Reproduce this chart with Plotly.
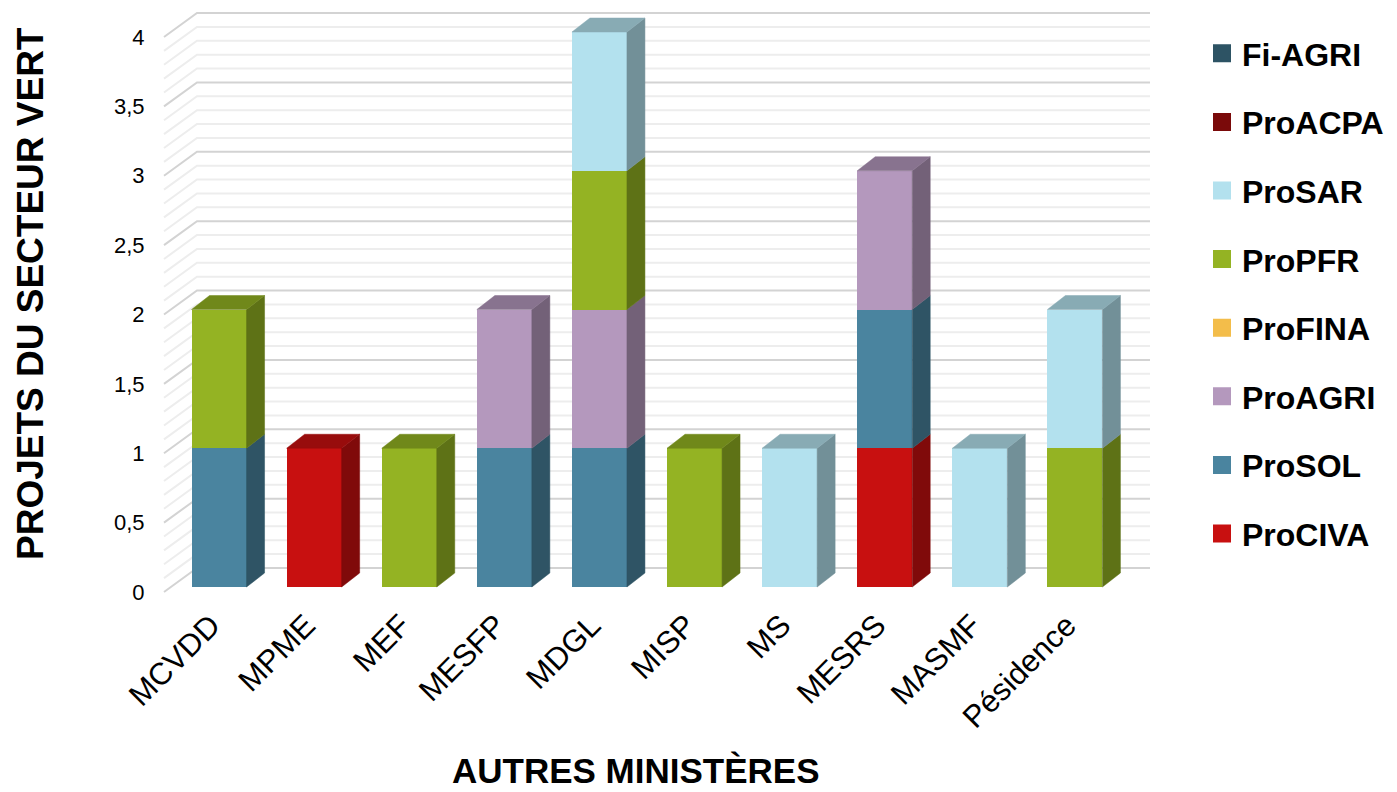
import plotly.graph_objects as go

# ---------------- data ----------------
categories = ["MCVDD", "MPME", "MEF", "MESFP", "MDGL", "MISP", "MS", "MESRS", "MASMF", "Pésidence"]
series_names = ["ProCIVA", "ProSOL", "ProAGRI", "ProFINA", "ProPFR", "ProSAR", "ProACPA", "Fi-AGRI"]
ProCIVA = [0, 1, 0, 0, 0, 0, 0, 1, 0, 0]
ProSOL = [1, 0, 0, 1, 1, 0, 0, 1, 0, 0]
ProAGRI = [0, 0, 0, 1, 1, 0, 0, 1, 0, 0]
ProFINA = [0, 0, 0, 0, 0, 0, 0, 0, 0, 0]
ProPFR = [1, 0, 1, 0, 1, 1, 0, 0, 0, 1]
ProSAR = [0, 0, 0, 0, 1, 0, 1, 0, 1, 1]
ProACPA = [0, 0, 0, 0, 0, 0, 0, 0, 0, 0]
Fi_AGRI = [0, 0, 0, 0, 0, 0, 0, 0, 0, 0]
series_values = [ProCIVA, ProSOL, ProAGRI, ProFINA, ProPFR, ProSAR, ProACPA, Fi_AGRI]
y_tick_values = [0, 0.5, 1, 1.5, 2, 2.5, 3, 3.5, 4]
y_tick_labels = ["0", "0,5", "1", "1,5", "2", "2,5", "3", "3,5", "4"]
x_title = "AUTRES MINISTÈRES"
y_title = "PROJETS DU SECTEUR VERT"

# ---------------- style ----------------
colors = {
    "ProCIVA": "#C81010",
    "ProSOL": "#4A849F",
    "ProAGRI": "#B498BD",
    "ProFINA": "#F3BD4A",
    "ProPFR": "#94B323",
    "ProSAR": "#B3E1EE",
    "ProACPA": "#7A0A0A",
    "Fi-AGRI": "#2D5364",
}
FONT = "Liberation Sans, Arial, sans-serif"


def shade(hex_color, f):
    h = hex_color.lstrip("#")
    r, g, b = (int(h[i:i + 2], 16) for i in (0, 2, 4))
    return "#%02X%02X%02X" % (int(r * f), int(g * f), int(b * f))


W, H = 1397, 792
L_PX, R_PX, T_PX, B_PX = 162, 1151, 10, 600
x_range = [-0.6, 9.8]
y_range = [-0.0937, 4.1586]
px_per_cat = (R_PX - L_PX) / (x_range[1] - x_range[0])
px_per_unit = (B_PX - T_PX) / (y_range[1] - y_range[0])
bar_w = 55 / px_per_cat
dep_x = 18 / px_per_cat
dep_y = 14 / px_per_unit

xs = list(range(len(categories)))
fig = go.Figure()

# front faces (stacked bars)
for name, vals in zip(series_names, series_values):
    fig.add_trace(go.Bar(
        x=xs, y=[v if v else None for v in vals], width=bar_w,
        marker=dict(color=colors[name], line=dict(width=0)),
        name=name, showlegend=False,
        hovertemplate="%{text}<br>" + name + ": %{y}<extra></extra>",
        text=categories, textposition="none",
    ))

# side and top faces (3D effect) computed from the stacked values
cum = [0] * len(categories)
tops = [0] * len(categories)
for vals in series_values:
    for i, v in enumerate(vals):
        tops[i] += v
side_polys = {n: ([], []) for n in series_names}
top_polys = {n: ([], []) for n in series_names}
for name, vals in zip(series_names, series_values):
    for i, v in enumerate(vals):
        if not v:
            continue
        y0, y1 = cum[i], cum[i] + v
        xr = i + bar_w / 2
        xl = i - bar_w / 2
        sx, sy = side_polys[name]
        sx += [xr, xr + dep_x, xr + dep_x, xr, xr, None]
        sy += [y0, y0 + dep_y, y1 + dep_y, y1, y0, None]
        if y1 == tops[i]:
            tx, ty = top_polys[name]
            tx += [xl, xl + dep_x, xr + dep_x, xr, xl, None]
            ty += [y1, y1 + dep_y, y1 + dep_y, y1, y1, None]
        cum[i] = y1

for name in series_names:
    for polys, f in ((side_polys, 0.64), (top_polys, 0.76)):
        px_, py_ = polys[name]
        if px_:
            c = shade(colors[name], f)
            fig.add_trace(go.Scatter(
                x=px_, y=py_, mode="lines", fill="toself", fillcolor=c,
                line=dict(color=c, width=0.5), hoverinfo="skip",
                showlegend=False,
            ))

# legend entries (top of the legend = last series of the stack)
for name in reversed(series_names):
    fig.add_trace(go.Scatter(
        x=[None], y=[None], mode="markers", name=name, legendgroup="lg_" + name,
        marker=dict(symbol="square", size=16, color=colors[name],
                    line=dict(color=colors[name], width=2)),
    ))

# back wall gridlines with perspective diagonals (decoration)
front_off = 5 / px_per_unit
back_off = 19 / px_per_unit
xf = (164 - L_PX) / (R_PX - L_PX)
xb = (197 - L_PX) / (R_PX - L_PX)
xe = (1150 - L_PX) / (R_PX - L_PX)
shapes = []
for major in (False, True):
    for k in range(41):
        v = k / 10
        is_major = (k % 5 == 0)
        if is_major != major:
            continue
        col = "#D3D3D3" if major else "#EDEDED"
        shapes.append(dict(
            type="path", xref="paper", yref="y", layer="below",
            path="M %f,%f L %f,%f L %f,%f" % (xf, v - front_off, xb, v + back_off, xe, v + back_off),
            line=dict(color=col, width=2),
        ))

fig.update_layout(
    width=W, height=H,
    margin=dict(l=L_PX, r=W - R_PX, t=T_PX, b=H - B_PX, autoexpand=False),
    paper_bgcolor="white", plot_bgcolor="white",
    barmode="stack",
    font=dict(family=FONT, color="#000000"),
    shapes=shapes,
    xaxis=dict(
        range=x_range, tickmode="array", tickvals=xs, ticktext=categories,
        tickangle=-45, tickfont=dict(size=31, family=FONT, color="#000"),
        showgrid=False, zeroline=False, showline=False,
        ticks="", ticklabelshift=-8,
    ),
    yaxis=dict(range=y_range, visible=False, showgrid=False, zeroline=False),
    yaxis2=dict(
        range=[y_range[0] + front_off, y_range[1] + front_off], overlaying="y", side="left",
        tickmode="array", tickvals=y_tick_values, ticktext=y_tick_labels,
        tickfont=dict(size=22, family=FONT, color="#000"),
        showgrid=False, zeroline=False, showline=False,
        ticks="outside", ticklen=12, tickcolor="rgba(0,0,0,0)",
    ),
    legend=dict(
        xref="container", yref="container", x=1202 / W, y=1 - 26 / H,
        xanchor="left", yanchor="top", maxheight=760,
        traceorder="grouped", tracegroupgap=24,
        font=dict(size=32, family=FONT, color="#000", weight="bold"),
        bgcolor="rgba(0,0,0,0)",
    ),
    annotations=[
        dict(text=x_title, xref="paper", yref="paper",
             x=(636 - L_PX) / (R_PX - L_PX), y=(B_PX - 770) / (B_PX - T_PX),
             xanchor="center", yanchor="middle", showarrow=False,
             font=dict(size=35, family=FONT, color="#000", weight="bold")),
        dict(text=y_title, xref="paper", yref="paper", textangle=-90,
             x=(30 - L_PX) / (R_PX - L_PX), y=(B_PX - 294) / (B_PX - T_PX),
             xanchor="center", yanchor="middle", showarrow=False,
             font=dict(size=37, family=FONT, color="#000", weight="bold")),
    ],
)
# dummy trace so the tick-label axis (yaxis2) is rendered
fig.add_trace(go.Scatter(x=[None], y=[None], yaxis="y2", showlegend=False, hoverinfo="skip"))

fig.write_html("out.html", config={"displayModeBar": False},
               post_script="document.body.style.margin='0';")
